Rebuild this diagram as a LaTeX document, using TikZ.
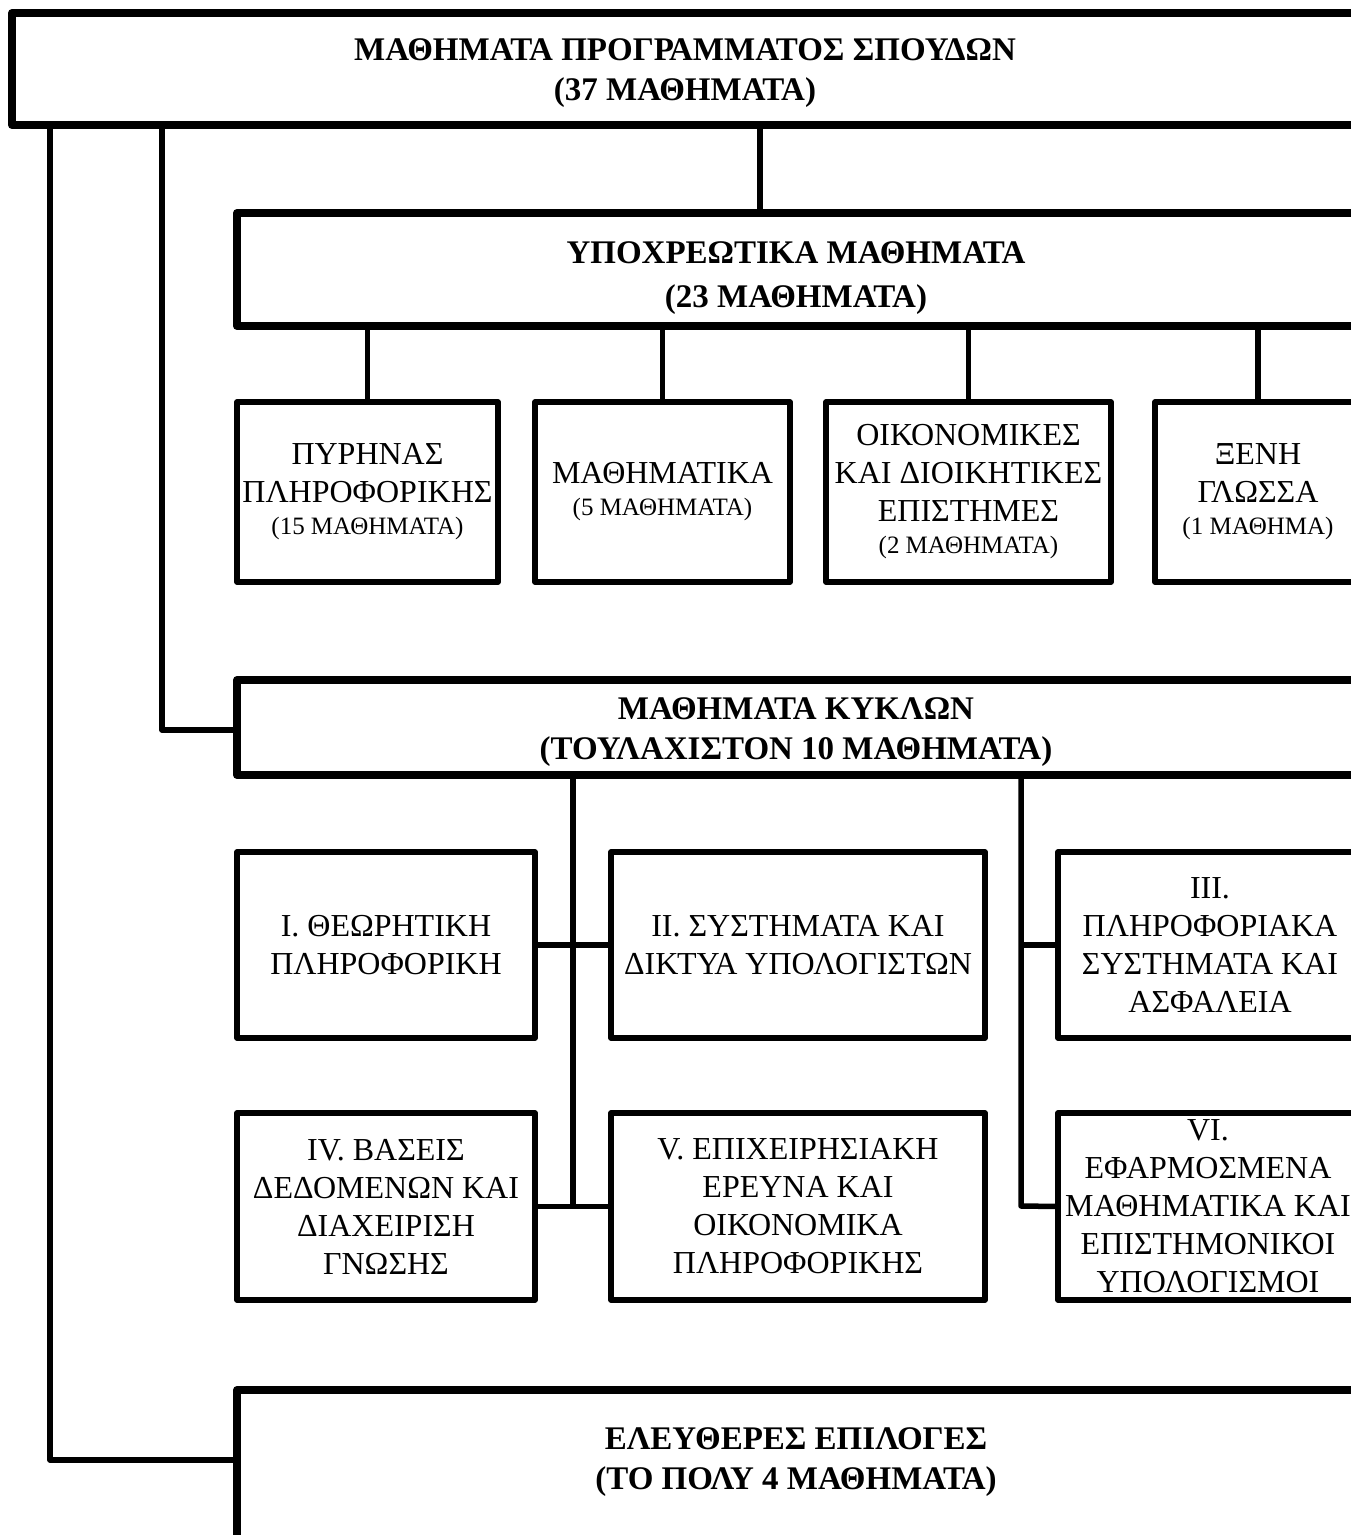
\documentclass[tikz,border=0pt]{standalone}
\usepackage{fontspec}
\setmainfont{Liberation Serif}
\newcommand\regfnt{\fontsize{32}{38}\selectfont}
\newcommand\smallfnt{\fontsize{25}{30}\selectfont}
\newcommand\boldfnt{\fontsize{33}{40}\selectfont\bfseries}
\tikzset{
  bigbox/.style={draw, line width=8pt, line join=round, rectangle, inner sep=0pt, outer sep=0pt, anchor=north west, align=center, font=\boldfnt},
  smallbox/.style={draw, line width=5.5pt, line join=round, rectangle, inner sep=0pt, outer sep=0pt, anchor=north west, align=center, font=\regfnt},
  conn/.style={line width=5.5pt, line join=round},
  txt/.style={inner sep=0pt, align=center, font=\boldfnt}
}
\begin{document}
\begin{tikzpicture}[x=1pt,y=-1pt]
\useasboundingbox (0,0) rectangle (1351,1535);
\begin{scope}
\clip (0,0) rectangle (1351,1535);
% big boxes
\node[bigbox, minimum width=1346, minimum height=112] (top) at (12,13) {\rule{0pt}{31pt}ΜΑΘΗΜΑΤΑ ΠΡΟΓΡΑΜΜΑΤΟΣ ΣΠΟΥΔΩΝ\\(37 ΜΑΘΗΜΑΤΑ)};
\node[bigbox, minimum width=1118, minimum height=113] (oblig) at (237,213) {\rule{0pt}{40pt}ΥΠΟΧΡΕΩΤΙΚΑ ΜΑΘΗΜΑΤΑ\\[4pt](23 ΜΑΘΗΜΑΤΑ)};
\node[bigbox, minimum width=1118, minimum height=95] (cycles) at (237,680) {\rule{0pt}{31pt}ΜΑΘΗΜΑΤΑ ΚΥΚΛΩΝ\\(ΤΟΥΛΑΧΙΣΤΟΝ 10 ΜΑΘΗΜΑΤΑ)};
\node[bigbox, minimum width=1118, minimum height=200] (free) at (237,1390) {};
\node[txt] (freetxt) at (796,1462) {ΕΛΕΥΘΕΡΕΣ ΕΠΙΛΟΓΕΣ\\(ΤΟ ΠΟΛΥ 4 ΜΑΘΗΜΑΤΑ)};
% compulsory groups
\node[smallbox, minimum width=261, minimum height=180] (core) at (237,402) {ΠΥΡΗΝΑΣ\\ΠΛΗΡΟΦΟΡΙΚΗΣ\\[-6pt]{\smallfnt (15 ΜΑΘΗΜΑΤΑ)}};
\node[smallbox, minimum width=255, minimum height=180] (math) at (535,402) {ΜΑΘΗΜΑΤΙΚΑ\\[-6pt]{\smallfnt (5 ΜΑΘΗΜΑΤΑ)}};
\node[smallbox, minimum width=285, minimum height=180] (econ) at (826,402) {ΟΙΚΟΝΟΜΙΚΕΣ\\ΚΑΙ ΔΙΟΙΚΗΤΙΚΕΣ\\ΕΠΙΣΤΗΜΕΣ\\[-6pt]{\smallfnt (2 ΜΑΘΗΜΑΤΑ)}};
\node[smallbox, minimum width=206, minimum height=180] (lang) at (1155,402) {ΞΕΝΗ\\ΓΛΩΣΣΑ\\[-6pt]{\smallfnt (1 ΜΑΘΗΜΑ)}};
% cycles
\node[smallbox, minimum width=298, minimum height=186] (c1) at (237,852) {I. ΘΕΩΡΗΤΙΚΗ\\ΠΛΗΡΟΦΟΡΙΚΗ};
\node[smallbox, minimum width=374, minimum height=186] (c2) at (611,852) {II. ΣΥΣΤΗΜΑΤΑ ΚΑΙ\\ΔΙΚΤΥΑ ΥΠΟΛΟΓΙΣΤΩΝ};
\node[smallbox, minimum width=304, minimum height=186] (c3) at (1058,852) {III.\\ΠΛΗΡΟΦΟΡΙΑΚΑ\\ΣΥΣΤΗΜΑΤΑ ΚΑΙ\\ΑΣΦΑΛΕΙΑ};
\node[smallbox, minimum width=298, minimum height=187] (c4) at (237,1113) {IV. ΒΑΣΕΙΣ\\ΔΕΔΟΜΕΝΩΝ ΚΑΙ\\ΔΙΑΧΕΙΡΙΣΗ\\ΓΝΩΣΗΣ};
\node[smallbox, minimum width=374, minimum height=187] (c5) at (611,1113) {V. ΕΠΙΧΕΙΡΗΣΙΑΚΗ\\ΕΡΕΥΝΑ ΚΑΙ\\ΟΙΚΟΝΟΜΙΚΑ\\ΠΛΗΡΟΦΟΡΙΚΗΣ};
\node[smallbox, minimum width=300, minimum height=187] (c6) at (1058,1113) {VI.\\ΕΦΑΡΜΟΣΜΕΝΑ\\ΜΑΘΗΜΑΤΙΚΑ ΚΑΙ\\ΕΠΙΣΤΗΜΟΝΙΚΟΙ\\ΥΠΟΛΟΓΙΣΜΟΙ};
% junction coordinates
\coordinate (jfree) at (50,1460);
\coordinate (jcyc) at (162,730);
\coordinate (jobl) at (760,213);
\coordinate (tL) at (573,1206);
\coordinate (tR) at (1021,1206);
% connectors
\draw[conn] (top.south -| jfree) -- (jfree) -- (jfree -| free.west);
\draw[conn] (top.south -| jcyc) -- (jcyc) -- (jcyc -| cycles.west);
\draw[conn] (top.south -| jobl) -- (jobl |- oblig.north);
\draw[conn] (core.north |- oblig.south) -- (core.north);
\draw[conn] (math.north |- oblig.south) -- (math.north);
\draw[conn] (econ.north |- oblig.south) -- (econ.north);
\draw[conn] (lang.north |- oblig.south) -- (lang.north);
\draw[conn] (cycles.south -| tL) -- (tL);
\draw[conn] (c1.east) -- (c2.west);
\draw[conn] (c4.east) -- (c5.west);
\draw[conn] (cycles.south -| tR) -- (tR) -- (c6.west);
\draw[conn] (c3.west -| tR) -- (c3.west);
\end{scope}
\end{tikzpicture}
\end{document}
